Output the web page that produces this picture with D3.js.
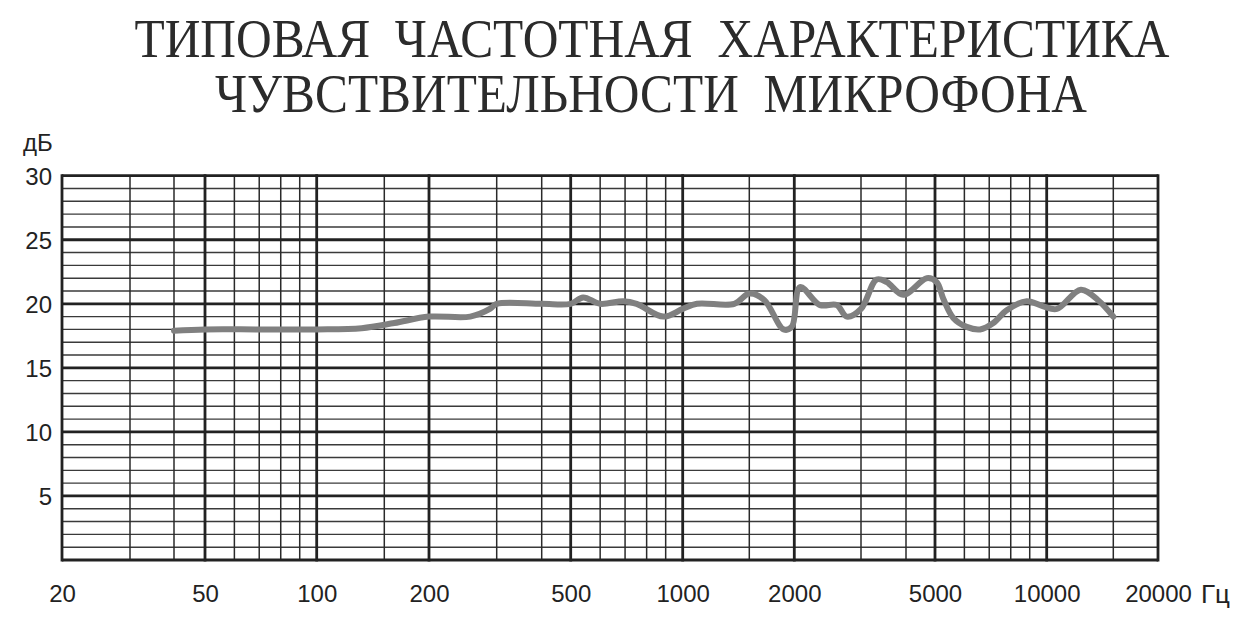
<!DOCTYPE html>
<html>
<head>
<meta charset="utf-8">
<script src="https://cdn.jsdelivr.net/npm/d3@7"></script>
<style>
  html, body { margin: 0; padding: 0; background: #ffffff; }
  svg { display: block; }
  .title { font-family: "Liberation Serif", "Times New Roman", serif; fill: #2b2b2b; white-space: pre; }
  .lbl { font-family: "Liberation Sans", Arial, sans-serif; fill: #222; }
</style>
</head>
<body>
<svg id="chart" width="1254" height="625"></svg>
<script>
// ---- data ----
const titleLines = ["ТИПОВАЯ  ЧАСТОТНАЯ  ХАРАКТЕРИСТИКА", "ЧУВСТВИТЕЛЬНОСТИ  МИКРОФОНА"];
const yUnit = "дБ";
const xUnit = "Гц";
const xMajor = [20, 50, 100, 200, 500, 1000, 2000, 5000, 10000, 20000];
const xMinor = [30, 40, 60, 70, 80, 90, 150, 300, 400, 600, 700, 800, 900, 1500, 3000, 4000, 6000, 7000, 8000, 9000, 15000];
const yLabels = [5, 10, 15, 20, 25, 30];
const freqs = [40, 50, 70, 100, 131, 160, 200, 256, 288, 300, 400, 500, 540, 600, 692, 752, 887, 1000, 1091, 1369, 1500, 1650, 1868, 1968, 2071, 2339, 2588, 2750, 3000, 3316, 3535, 3930, 4692, 5053, 5264, 5601, 6087, 6611, 7180, 7803, 8835, 9790, 10642, 12304, 13652, 15000];
const levels = [17.9, 18.0, 18.0, 18.0, 18.1, 18.5, 19.0, 19.0, 19.6, 20.0, 20.0, 20.0, 20.5, 20.0, 20.2, 20.0, 19.0, 19.6, 20.0, 20.0, 20.8, 20.3, 18.0, 18.2, 21.3, 19.9, 19.9, 19.0, 19.6, 21.9, 21.7, 20.7, 22.0, 21.7, 20.4, 18.9, 18.2, 18.0, 18.5, 19.5, 20.2, 19.8, 19.6, 21.1, 20.3, 19.0];

// ---- layout ----
const svg = d3.select("#chart");
// piecewise log scale matching the printed log paper
const xBreaks = [20, 30, 40, 50, 100, 150, 200, 300, 400, 500, 1000, 1500, 2000, 3000, 4000, 5000, 10000, 15000, 20000];
const xPos    = [62, 130, 174, 205, 316.7, 384.3, 429, 496.7, 541.7, 570.7, 682.7, 749.3, 794.3, 861, 906, 935, 1046.7, 1113.3, 1158];
const x = d3.scaleLog().domain(xBreaks).range(xPos);
const y = d3.scaleLinear().domain([0, 30]).range([560, 175.7]);

// title
svg.append("text").attr("class", "title")
  .attr("x", 652).attr("y", 57).attr("text-anchor", "middle")
  .attr("font-size", 55).attr("textLength", 1035).attr("lengthAdjust", "spacingAndGlyphs")
  .text(titleLines[0]);
svg.append("text").attr("class", "title")
  .attr("x", 651).attr("y", 112).attr("text-anchor", "middle")
  .attr("font-size", 55).attr("textLength", 872).attr("lengthAdjust", "spacingAndGlyphs")
  .text(titleLines[1]);

const grid = svg.append("g");
const yAll = d3.range(0, 31, 1);
// thin horizontal lines
grid.selectAll("line.hmin").data(yAll.filter(v => v % 5 !== 0)).enter().append("line")
  .attr("x1", x(20)).attr("x2", x(20000))
  .attr("y1", d => y(d)).attr("y2", d => y(d))
  .attr("stroke", "#3a3a3a").attr("stroke-width", 1.4);
// thin vertical lines
grid.selectAll("line.vmin").data(xMinor).enter().append("line")
  .attr("x1", d => x(d)).attr("x2", d => x(d))
  .attr("y1", y(0)).attr("y2", y(30))
  .attr("stroke", "#2a2a2a").attr("stroke-width", 1.5);
// thick horizontal lines
grid.selectAll("line.hmaj").data(yAll.filter(v => v % 5 === 0)).enter().append("line")
  .attr("x1", x(20)).attr("x2", x(20000))
  .attr("y1", d => y(d)).attr("y2", d => y(d))
  .attr("stroke", "#222").attr("stroke-width", 2.8);
// thick vertical lines
grid.selectAll("line.vmaj").data(xMajor).enter().append("line")
  .attr("x1", d => x(d)).attr("x2", d => x(d))
  .attr("y1", y(0) + 1.4).attr("y2", y(30) - 1.4)
  .attr("stroke", "#222").attr("stroke-width", 2.8);

// response curve
const line = d3.line()
  .x((d, i) => x(freqs[i]))
  .y(d => y(d))
  .curve(d3.curveCatmullRom.alpha(0.5));
svg.append("path")
  .attr("d", line(levels))
  .attr("fill", "none")
  .attr("stroke", "#808080")
  .attr("stroke-width", 6)
  .attr("stroke-linejoin", "round")
  .attr("stroke-linecap", "round");

// axes (labels only)
const yAxis = svg.append("g").attr("transform", `translate(${x(20)},0)`)
  .call(d3.axisLeft(y).tickValues(yLabels).tickSize(0).tickPadding(10).tickFormat(d3.format("d")));
yAxis.select(".domain").remove();
yAxis.selectAll("text").attr("class", "lbl").attr("font-size", 24).attr("dy", "0.36em");

const xAxis = svg.append("g").attr("transform", `translate(0,${y(0)})`)
  .call(d3.axisBottom(x).tickValues(xMajor).tickSize(0).tickPadding(25).tickFormat(d3.format("d")));
xAxis.select(".domain").remove();
xAxis.selectAll("text").attr("class", "lbl").attr("font-size", 24);

svg.append("text").attr("class", "lbl").attr("x", 23).attr("y", 151)
  .attr("font-size", 24).text(yUnit);
svg.append("text").attr("class", "lbl").attr("x", 1201).attr("y", 603)
  .attr("font-size", 26).text(xUnit);
</script>
</body>
</html>
